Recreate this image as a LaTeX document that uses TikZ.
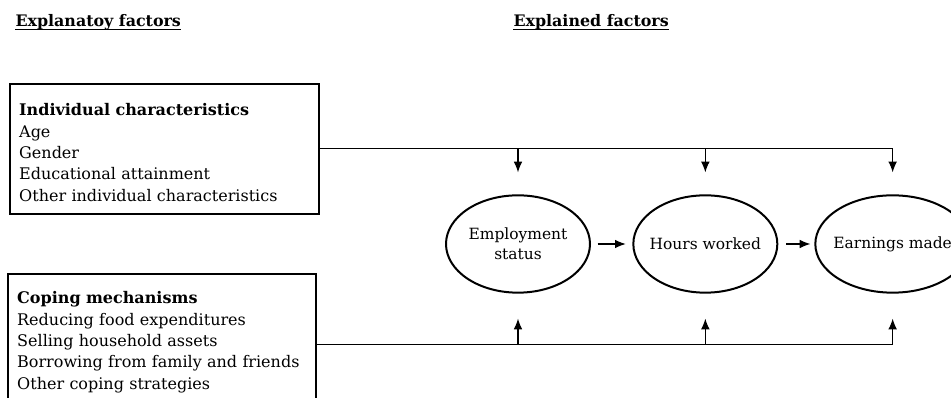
\documentclass[tikz,border=0pt]{standalone}
\usepackage{fontspec}
\setmainfont{DejaVu Serif}
\usetikzlibrary{arrows.meta,positioning,shapes.geometric}

\begin{document}
\begin{tikzpicture}[->,>={Latex[length=8pt,width=6.5pt]},x=0.75pt,y=-0.75pt,line width=0.8pt,
                    factor box/.style={draw,-,line width=1.3pt,anchor=north west,align=left,
                                       inner xsep=7pt,inner ysep=0pt,font=\fontsize{12}{16}\selectfont},
                    outcome/.style={ellipse,draw,line width=1.5pt,minimum width=108pt,minimum height=73pt,
                                    align=center,inner xsep=-16pt,inner ysep=0pt,font=\fontsize{11.6}{15}\selectfont},
                    heading/.style={inner sep=0pt,anchor=base west,font=\bfseries\fontsize{11.9}{13}\selectfont}]
    \useasboundingbox (0,0) rectangle (951,398);
    \clip (0,0) rectangle (951,398);

    \node[heading] (explanatory) at (15,27) {Explanatoy factors};
    \node[heading] (explained) at (513,27) {Explained factors};
    \draw[-] ([yshift=-2pt]explanatory.base west) -- ([yshift=-2pt]explanatory.base east);
    \draw[-] ([yshift=-2pt]explained.base west) -- ([yshift=-2pt]explained.base east);

    \node[factor box,text width=218pt,text height=24pt,text depth=73.5pt] (indiv) at (9,83)
        {\textbf{Individual characteristics}\\Age\\Gender\\Educational attainment\\Other individual characteristics};
    \node[factor box,text width=217pt,text height=22.5pt,text depth=84pt] (coping) at (7,273)
        {\textbf{Coping mechanisms}\\Reducing food expenditures\\Selling household assets\\Borrowing from family and friends\\Other coping strategies};

    \node[outcome] (employment) at (518,244) {Employment\\status};
    \node[outcome] (hours) [right=31pt of employment] {Hours worked};
    \node[outcome,minimum width=116pt] (earnings) [right=27pt of hours] {Earnings made};

    \path (employment) edge [shorten <=5pt, shorten >=5pt] (hours)
          (hours) edge [shorten <=6pt, shorten >=3pt] (earnings);

    % explanatory factors feed every outcome
    \draw[shorten >=16.5pt] (indiv.east) -| (earnings.north);
    \draw[shorten >=16.5pt] (indiv.east -| employment.north) -- (employment.north);
    \draw[shorten >=16.5pt] (indiv.east -| hours.north) -- (hours.north);
    \draw[shorten >=18.75pt] (coping.east) -| (earnings.south);
    \draw[shorten >=18.75pt] (coping.east -| employment.south) -- (employment.south);
    \draw[shorten >=18.75pt] (coping.east -| hours.south) -- (hours.south);
\end{tikzpicture}
\end{document}
